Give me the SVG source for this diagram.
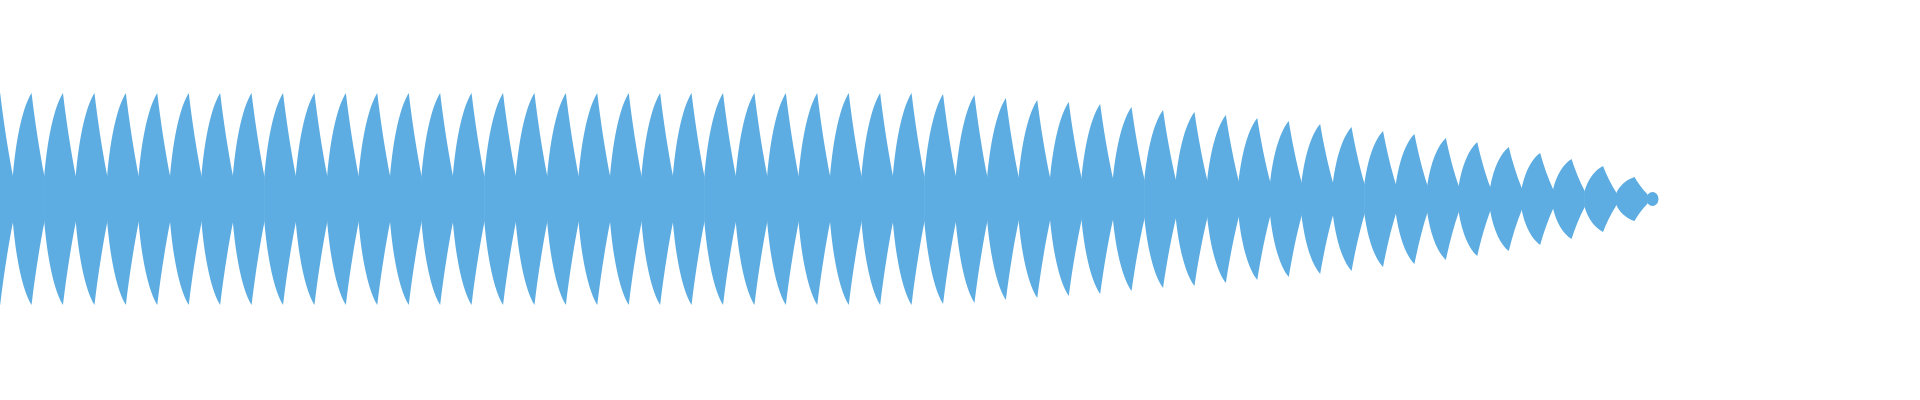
<svg xmlns="http://www.w3.org/2000/svg" xmlns:xlink="http://www.w3.org/1999/xlink" width="1920" height="400" viewBox="0 0 1920 400">
<style>.b{fill:#5DADE2;stroke:none}</style>
<defs><path id="u" d="M0,-0.2 C0.12,-0.62 0.35,-0.88 0.6,-1 C0.7,-0.75 0.85,-0.45 1.02,-0.2 L1.02,0.2 C0.85,0.45 0.7,0.75 0.6,1 C0.35,0.88 0.12,0.62 0,0.2 Z"/></defs>
<rect width="1920" height="400" fill="#ffffff"/>
<g class="b">
<use xlink:href="#u" transform="translate(-18.7,199) scale(31.43,106)"/>
<use xlink:href="#u" transform="translate(12.7,199) scale(31.43,106)"/>
<use xlink:href="#u" transform="translate(44.1,199) scale(31.43,106)"/>
<use xlink:href="#u" transform="translate(75.6,199) scale(31.43,106)"/>
<use xlink:href="#u" transform="translate(107.0,199) scale(31.43,106)"/>
<use xlink:href="#u" transform="translate(138.4,199) scale(31.43,106)"/>
<use xlink:href="#u" transform="translate(169.9,199) scale(31.43,106)"/>
<use xlink:href="#u" transform="translate(201.3,199) scale(31.43,106)"/>
<use xlink:href="#u" transform="translate(232.7,199) scale(31.43,106)"/>
<use xlink:href="#u" transform="translate(264.2,199) scale(31.43,106)"/>
<use xlink:href="#u" transform="translate(295.6,199) scale(31.43,106)"/>
<use xlink:href="#u" transform="translate(327.0,199) scale(31.43,106)"/>
<use xlink:href="#u" transform="translate(358.4,199) scale(31.43,106)"/>
<use xlink:href="#u" transform="translate(389.9,199) scale(31.43,106)"/>
<use xlink:href="#u" transform="translate(421.3,199) scale(31.43,106)"/>
<use xlink:href="#u" transform="translate(452.7,199) scale(31.43,106)"/>
<use xlink:href="#u" transform="translate(484.2,199) scale(31.43,106)"/>
<use xlink:href="#u" transform="translate(515.6,199) scale(31.43,106)"/>
<use xlink:href="#u" transform="translate(547.0,199) scale(31.43,106)"/>
<use xlink:href="#u" transform="translate(578.4,199) scale(31.43,106)"/>
<use xlink:href="#u" transform="translate(609.9,199) scale(31.43,106)"/>
<use xlink:href="#u" transform="translate(641.3,199) scale(31.43,106)"/>
<use xlink:href="#u" transform="translate(672.7,199) scale(31.43,106)"/>
<use xlink:href="#u" transform="translate(704.2,199) scale(31.43,106)"/>
<use xlink:href="#u" transform="translate(735.6,199) scale(31.43,106)"/>
<use xlink:href="#u" transform="translate(767.0,199) scale(31.43,106)"/>
<use xlink:href="#u" transform="translate(798.4,199) scale(31.43,106)"/>
<use xlink:href="#u" transform="translate(829.9,199) scale(31.43,106)"/>
<use xlink:href="#u" transform="translate(861.3,199) scale(31.43,106)"/>
<use xlink:href="#u" transform="translate(892.7,199) scale(31.43,106)"/>
<use xlink:href="#u" transform="translate(924.2,199) scale(31.43,105)"/>
<use xlink:href="#u" transform="translate(955.6,199) scale(31.43,104)"/>
<use xlink:href="#u" transform="translate(987.0,199) scale(31.43,101)"/>
<use xlink:href="#u" transform="translate(1018.4,199) scale(31.43,99)"/>
<use xlink:href="#u" transform="translate(1049.9,199) scale(31.43,97)"/>
<use xlink:href="#u" transform="translate(1081.3,199) scale(31.43,95)"/>
<use xlink:href="#u" transform="translate(1112.7,199) scale(31.43,92)"/>
<use xlink:href="#u" transform="translate(1144.2,199) scale(31.43,89)"/>
<use xlink:href="#u" transform="translate(1175.6,199) scale(31.43,87)"/>
<use xlink:href="#u" transform="translate(1207.0,199) scale(31.43,84)"/>
<use xlink:href="#u" transform="translate(1238.4,199) scale(31.43,81)"/>
<use xlink:href="#u" transform="translate(1269.9,199) scale(31.43,78)"/>
<use xlink:href="#u" transform="translate(1301.3,199) scale(31.43,75)"/>
<use xlink:href="#u" transform="translate(1332.7,199) scale(31.43,72)"/>
<use xlink:href="#u" transform="translate(1364.2,199) scale(31.43,68)"/>
<use xlink:href="#u" transform="translate(1395.6,199) scale(31.43,65)"/>
<use xlink:href="#u" transform="translate(1427.0,199) scale(31.43,61)"/>
<use xlink:href="#u" transform="translate(1458.4,199) scale(31.43,57)"/>
<use xlink:href="#u" transform="translate(1489.9,199) scale(31.43,52)"/>
<use xlink:href="#u" transform="translate(1521.3,199) scale(31.43,46)"/>
<use xlink:href="#u" transform="translate(1552.7,199) scale(31.43,40)"/>
<use xlink:href="#u" transform="translate(1584.2,199) scale(31.43,33)"/>
<use xlink:href="#u" transform="translate(1615.6,199) scale(31.43,22)"/>
<ellipse cx="1652.5" cy="199" rx="6" ry="7"/>
</g>
</svg>
